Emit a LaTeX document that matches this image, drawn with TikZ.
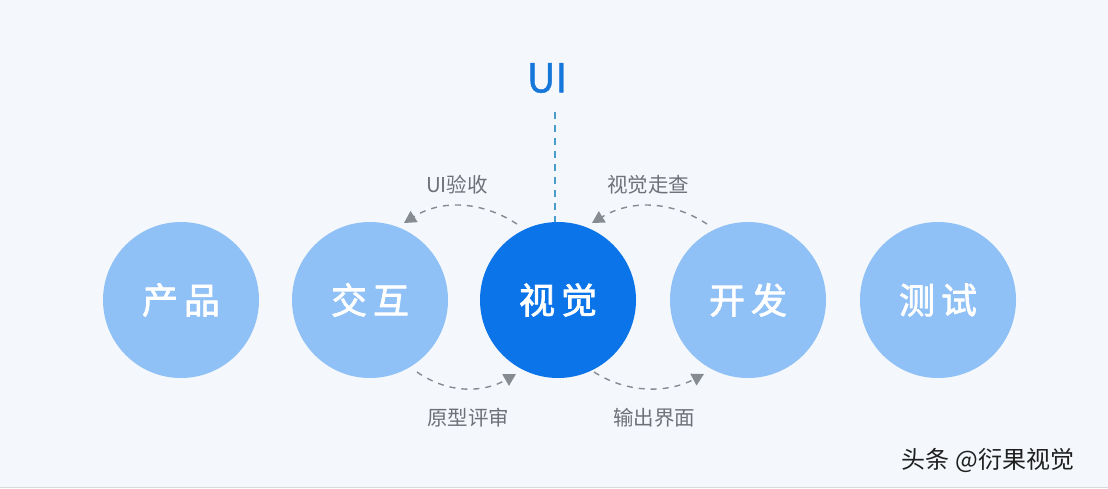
\documentclass[tikz,border=0pt]{standalone}
\usepackage{fontspec}
\setmainfont{Noto Sans CJK SC}
\newfontfamily\circfont{Noto Sans CJK SC}[FakeBold=2]
\newfontfamily\uifont{Noto Sans CJK SC}[FakeBold=1]
\usetikzlibrary{arrows.meta}
\definecolor{bgc}{HTML}{F4F7FB}
\definecolor{lightb}{HTML}{8FC0F6}
\definecolor{darkb}{HTML}{0B74E8}
\definecolor{uib}{HTML}{1677DB}
\definecolor{dashc}{HTML}{4A9CCB}
\definecolor{arcc}{HTML}{868B92}
\definecolor{labc}{HTML}{6E7278}
\tikzset{
  stage/.style={circle, fill=lightb, minimum size=156pt, inner sep=0pt, text=white, font=\circfont\fontsize{36}{36}\selectfont},
  stagemain/.style={stage, fill=darkb},
  flow/.style={draw=arcc, line width=1.4pt, dash pattern=on 6pt off 6pt, -{Triangle[length=12pt,width=13pt,fill=arcc]}},
  lab/.style={text=labc, font=\fontsize{20.5}{20.5}\selectfont, inner sep=0pt}
}
\begin{document}
\begin{tikzpicture}[x=1pt,y=-1pt]
\fill[bgc] (0,0) rectangle (1108,488);
\useasboundingbox (0,0) rectangle (1108,488);
\draw[black!15, line width=1pt] (0,487) -- (1108,487);
\node[stage] (prod) at (181,300) {产\hspace{6pt}品};
\node[stage] (inter) at (370,300) {交\hspace{6pt}互};
\node[stagemain] (vis) at (558,300) {视\hspace{6pt}觉};
\node[stage] (dev) at (748,300) {开\hspace{6pt}发};
\node[stage] (test) at (938,300) {测\hspace{6pt}试};
\node[text=uib, font=\uifont\fontsize{40}{40}\selectfont, inner sep=0pt] (ui) at (547,78) {UI};
\coordinate (uiend) at (555,112);
\draw[dashc, line width=2pt, dash pattern=on 7pt off 6pt] (uiend) -- (vis.north -| uiend);
\coordinate (a1s) at (517,224);
\coordinate (a1e) at (404,223);
\draw[flow] (a1s) .. controls (480,200) and (440,200) .. (a1e);
\coordinate (a2s) at (707,224);
\coordinate (a2e) at (592,223);
\draw[flow] (a2s) .. controls (670,200) and (630,200) .. (a2e);
\coordinate (a3s) at (417,372);
\coordinate (a3e) at (516,374);
\draw[flow] (a3s) .. controls (450,395) and (485,392) .. (a3e);
\coordinate (a4s) at (594,372);
\coordinate (a4e) at (704,374);
\draw[flow] (a4s) .. controls (630,395) and (670,392) .. (a4e);
\node[lab] (l1) at (457,185) {UI验收};
\node[lab] (l2) at (648,185) {视觉走查};
\node[lab] (l3) at (468,418) {原型评审};
\node[lab] (l4) at (654,418) {输出界面};
\node[text=black!88, font=\fontsize{24}{24}\selectfont, inner sep=0pt] (wm) at (988,460) {头条 @衍果视觉};
\end{tikzpicture}
\end{document}
